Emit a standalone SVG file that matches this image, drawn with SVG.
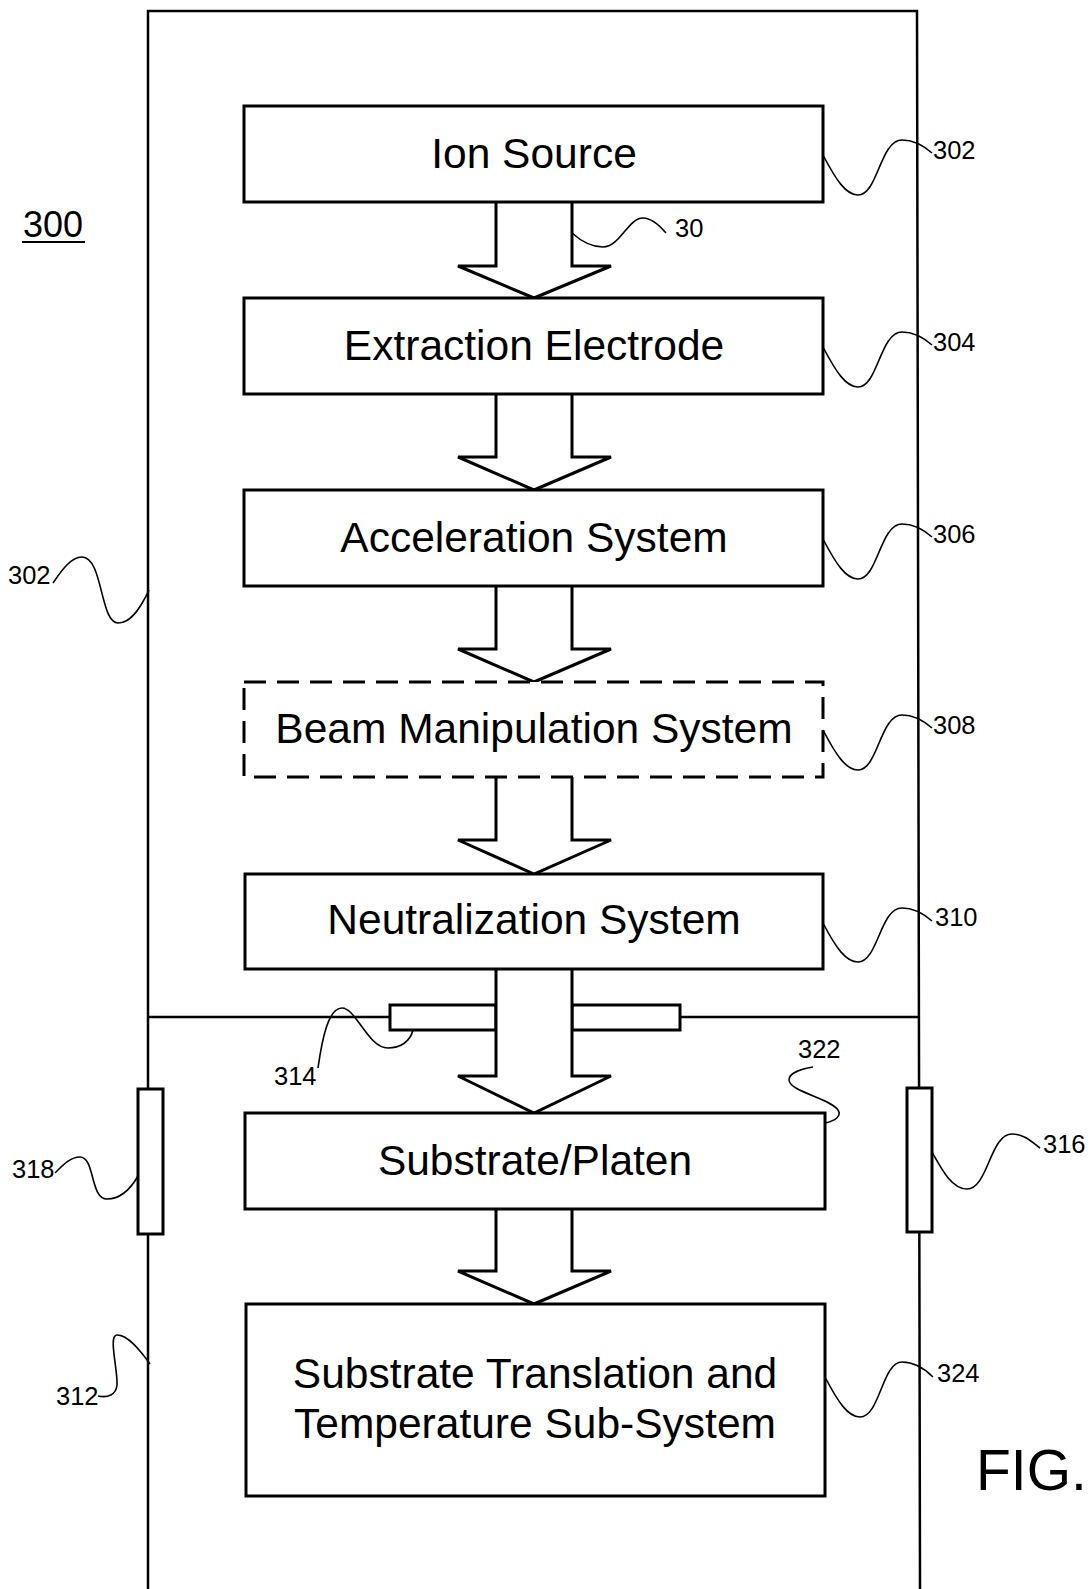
<svg xmlns="http://www.w3.org/2000/svg" width="1090" height="1589" viewBox="0 0 1090 1589">
<style>
.box{fill:#fff;stroke:#000;stroke-width:3}
.dash{fill:#fff;stroke:#000;stroke-width:3;stroke-dasharray:22 11}
.wall{fill:none;stroke:#000;stroke-width:2.5}
.win{fill:#fff;stroke:#000;stroke-width:3}
.arrow{fill:#fff;stroke:#000;stroke-width:3;stroke-linejoin:miter}
.lead{fill:none;stroke:#000;stroke-width:1.6}
.t{font-family:"Liberation Sans",Arial,sans-serif;font-size:42.5px;fill:#000;text-anchor:middle}
.n{font-family:"Liberation Sans",Arial,sans-serif;font-size:25.5px;fill:#000}
</style>
<rect width="1090" height="1589" fill="#fff"/>
<g id="chamber">
<polyline class="wall" points="148,1589 148,11 917,11 920,1589"/>
<line class="wall" x1="148" y1="1017" x2="390" y2="1017"/>
<line class="wall" x1="680" y1="1017" x2="918" y2="1017"/>
<rect id="window-314-left" class="win" x="390" y="1005" width="106" height="25"/>
<rect id="window-314-right" class="win" x="572" y="1005" width="108" height="25"/>
<rect id="port-318" class="win" x="138" y="1089" width="25" height="145"/>
<rect id="port-316" class="win" x="907" y="1088" width="25" height="144"/>
</g>
<g id="connectors">
<polyline class="arrow" points="496,202 496,266 458,266 534,298 611,266 572,266 572,202"/>
<polyline class="arrow" points="496,394 496,457 458,457 534,490 611,457 572,457 572,394"/>
<polyline class="arrow" points="496,586 496,649 458,649 534,682 611,649 572,649 572,586"/>
<polyline class="arrow" points="496,777 496,840 458,840 534,874 611,840 572,840 572,777"/>
<polyline class="arrow" points="496,969 496,1076 458,1076 534,1113 611,1076 572,1076 572,969"/>
<polyline class="arrow" points="496,1209 496,1271 458,1271 534,1304 611,1271 572,1271 572,1209"/>
</g>
<g id="node-302">
<rect class="box" x="244" y="106" width="579" height="96"/>
<text class="t" x="534" y="168">Ion Source</text>
</g>
<g id="node-304">
<rect class="box" x="244" y="298" width="579" height="96"/>
<text class="t" x="534" y="360">Extraction Electrode</text>
</g>
<g id="node-306">
<rect class="box" x="244" y="490" width="579" height="96"/>
<text class="t" x="534" y="552">Acceleration System</text>
</g>
<g id="node-308">
<rect class="dash" x="244" y="682" width="579" height="95"/>
<text class="t" x="534" y="743">Beam Manipulation System</text>
</g>
<g id="node-310">
<rect class="box" x="245" y="874" width="578" height="95"/>
<text class="t" x="534" y="934">Neutralization System</text>
</g>
<g id="node-322">
<rect class="box" x="245" y="1113" width="580" height="96"/>
<text class="t" x="535" y="1175">Substrate/Platen</text>
</g>
<g id="node-324">
<rect class="box" x="246" y="1304" width="579" height="192"/>
<text class="t" x="535" y="1388">Substrate Translation and</text>
<text class="t" x="535" y="1438">Temperature Sub-System</text>
</g>
<g id="leaders">
<path class="lead" d="M823,155 C836,180 846,195 858,195 C878,195 880,140 902,140 C914,140 924,146 932,153"/>
<path class="lead" d="M823,347 C836,372 846,387 858,387 C878,387 880,332 902,332 C914,332 924,338 932,345"/>
<path class="lead" d="M823,539 C836,564 846,579 858,579 C878,579 880,524 902,524 C914,524 924,530 932,537"/>
<path class="lead" d="M823,730 C836,755 846,770 858,770 C878,770 880,715 902,715 C914,715 924,721 932,728"/>
<path class="lead" d="M823,923 C836,948 846,962 858,962 C878,962 880,908 902,908 C914,908 924,914 932,921"/>
<path class="lead" d="M825,1377 C838,1402 848,1417 860,1417 C880,1417 882,1362 902,1362 C916,1362 926,1370 933,1377"/>
<path class="lead" d="M572,233 C582,242 592,247 603,247 C620,247 628,218 643,218 C652,218 660,226 666,233"/>
<path class="lead" d="M149,590 C142,605 132,623 118,623 C100,623 103,557 82,557 C70,557 60,573 53,583"/>
<path class="lead" d="M138,1176 C130,1190 120,1199 107,1199 C90,1199 95,1157 80,1157 C70,1157 62,1166 55,1173"/>
<path class="lead" d="M150,1364 C140,1350 128,1335 117,1335 C108,1335 118,1370 117,1385 C116,1395 108,1398 98,1396"/>
<path class="lead" d="M932,1152 C942,1170 952,1189 967,1189 C988,1189 990,1134 1012,1134 C1024,1134 1032,1142 1040,1148"/>
<path class="lead" d="M825,1123 C835,1121 842,1116 838,1110 C830,1098 790,1092 789,1080 C789,1072 802,1069 813,1067"/>
<path class="lead" d="M413,1030 C410,1042 400,1048 388,1048 C368,1048 356,1008 342,1008 C328,1008 322,1040 318,1068"/>
</g>
<g id="labels">
<text class="n" x="933" y="159">302</text>
<text class="n" x="933" y="351">304</text>
<text class="n" x="933" y="543">306</text>
<text class="n" x="933" y="734">308</text>
<text class="n" x="935" y="926">310</text>
<text class="n" x="675" y="237">30</text>
<text class="n" x="8" y="584">302</text>
<text class="n" x="12" y="1178">318</text>
<text class="n" x="56" y="1405">312</text>
<text class="n" x="1043" y="1153">316</text>
<text class="n" x="798" y="1058">322</text>
<text class="n" x="937" y="1382">324</text>
<text class="n" x="274" y="1085">314</text>
<text x="23" y="237" style="font-family:'Liberation Sans',Arial,sans-serif;font-size:36px">300</text>
<line x1="22" y1="242" x2="85" y2="242" stroke="#000" stroke-width="2"/>
<text x="976" y="1490" style="font-family:'Liberation Sans',Arial,sans-serif;font-size:57px">FIG.</text>
</g>
</svg>
